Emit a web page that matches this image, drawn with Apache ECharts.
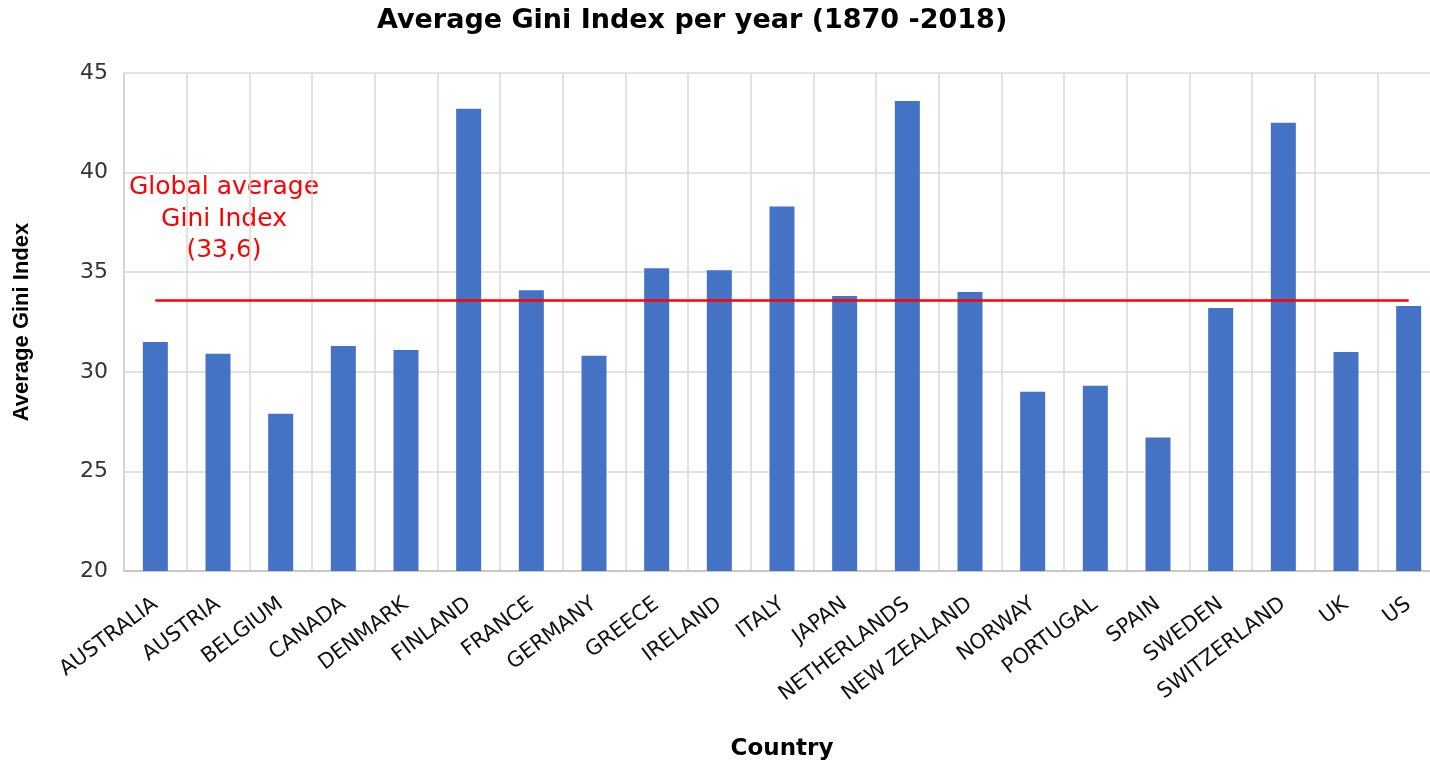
<!DOCTYPE html>
<html>
<head>
<meta charset="utf-8">
<script src="https://cdn.jsdelivr.net/npm/echarts@6/dist/echarts.min.js"></script>
<style>
html,body{margin:0;padding:0;background:#fff;}
#chart{width:1430px;height:763px;}
</style>
</head>
<body>
<div id="chart"></div>
<script>
const countries = ['AUSTRALIA','AUSTRIA','BELGIUM','CANADA','DENMARK','FINLAND','FRANCE','GERMANY','GREECE','IRELAND','ITALY','JAPAN','NETHERLANDS','NEW ZEALAND','NORWAY','PORTUGAL','SPAIN','SWEDEN','SWITZERLAND','UK','US'];
const giniValues = [31.5,30.9,27.9,31.3,31.1,43.2,34.1,30.8,35.2,35.1,38.3,33.8,43.6,34.0,29.0,29.3,26.7,33.2,42.5,31.0,33.3];
const globalAverage = 33.6;
const yTicks = [20,25,30,35,40,45];
const annotationLines = ['Global average','Gini Index','(33,6)'];

const chart = echarts.init(document.getElementById('chart'));
const font = 'DejaVu Sans';
chart.setOption({
  backgroundColor:'#ffffff',
  animation:false,
  title:{
    text:'Average Gini Index per year (1870 -2018)',
    left:372, top:2,
    textStyle:{fontFamily:font,fontWeight:'bold',fontSize:27,color:'#000'}
  },
  grid:{left:124, top:73, width:1316, height:498, outerBoundsMode:'none', containLabel:false},
  xAxis:{
    type:'category',
    data:countries,
    name:'Country',
    nameLocation:'middle',
    nameGap:167,
    nameTextStyle:{fontFamily:font,fontWeight:'bold',fontSize:23,color:'#000'},
    axisLine:{show:true,lineStyle:{color:'#bfbfbf',width:1.5}},
    axisTick:{show:false},
    splitLine:{show:true,lineStyle:{color:'#d9d9d9',width:1.5}},
    axisLabel:{rotate:37,margin:31,fontFamily:font,fontSize:21,color:'#111',interval:0}
  },
  yAxis:{
    type:'value',
    min:yTicks[0], max:yTicks[yTicks.length-1], interval:5,
    name:'Average Gini Index',
    nameLocation:'middle',
    nameGap:91,
    nameTextStyle:{fontFamily:'Liberation Sans',fontWeight:'bold',fontSize:22,color:'#000'},
    axisLine:{show:true,lineStyle:{color:'#d0d0d0',width:1.5}},
    axisTick:{show:false},
    splitLine:{show:true,lineStyle:{color:'#d9d9d9',width:1.5}},
    axisLabel:{margin:16,fontFamily:font,fontSize:22,color:'#333'}
  },
  series:[{
    type:'bar',
    data:giniValues,
    barWidth:25,
    itemStyle:{color:'#4472C4'},
    markLine:{
      silent:true,
      symbol:['none','none'],
      label:{show:false},
      lineStyle:{color:'#ff0000',width:2.5,type:'solid'},
      data:[[{coord:[countries[0],globalAverage]},{coord:[countries[countries.length-1],globalAverage]}]]
    }
  }],
  graphic:[{
    type:'text',
    x:224, y:172,
    style:{
      text:annotationLines.join('\n'),
      fill:'#ff0000',
      font:'25px "DejaVu Sans"',
      lineHeight:31.5,
      align:'center',
      verticalAlign:'top'
    }
  }]
});
</script>
</body>
</html>
